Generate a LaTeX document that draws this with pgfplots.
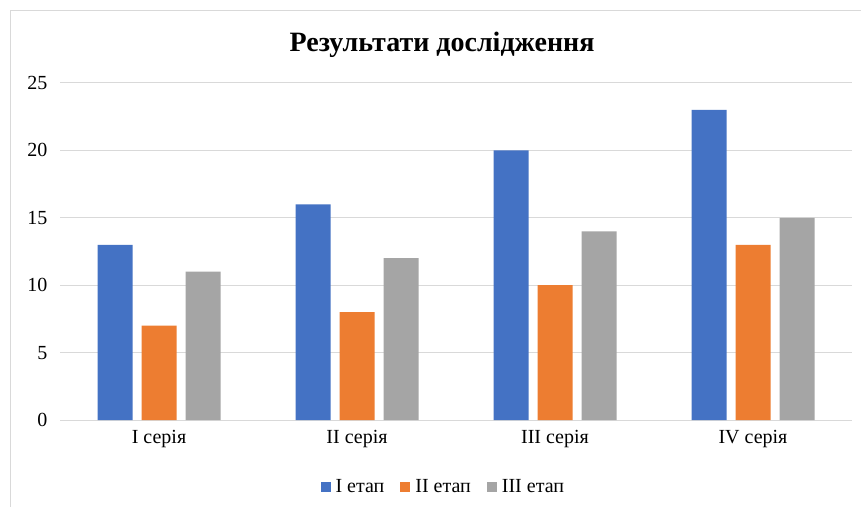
\documentclass[border=0pt]{standalone}
\usepackage{fontspec}
\setmainfont{Liberation Serif}
\usepackage{pgfplots}
\pgfplotsset{compat=1.18}
\definecolor{cA}{HTML}{4472C4}
\definecolor{cB}{HTML}{ED7D31}
\definecolor{cC}{HTML}{A5A5A5}
\definecolor{gridc}{HTML}{D9D9D9}
\begin{document}
\begin{tikzpicture}
\useasboundingbox (0pt,0pt) rectangle (861pt,506pt);
\fill[white] (0pt,0pt) rectangle (861pt,506pt);
\draw[color=gridc, line width=1pt] (10pt,-2pt) -- (10pt,495pt) -- (863pt,495pt);
\node[font=\fontsize{28}{32}\selectfont\bfseries] at (442pt,461pt) {Результати дослідження};
\begin{axis}[
  at={(60pt,86pt)}, anchor=south west,
  scale only axis, width=792pt, height=337pt,
  ybar=9pt, bar width=35pt,
  xmin=-0.5, xmax=3.5, ymin=0, ymax=25,
  ytick={0,5,10,15,20,25},
  xtick={0,1,2,3},
  xticklabels={I серія, II серія, III серія, IV серія},
  ymajorgrids, grid style={color=gridc, line width=1pt},
  axis line style={draw=none},
  major tick length=0pt,
  tick label style={font=\fontsize{20}{22}\selectfont},
  /pgf/number format/assume math mode=true,
  yticklabel style={xshift=-9pt},
  xticklabel style={yshift=-7pt},
  legend style={at={(0.484,-0.199)}, anchor=center, draw=none, fill=none,
    font=\fontsize{20}{22}\selectfont, legend columns=3,
    /tikz/every odd column/.append style={column sep=3pt},
    /tikz/every even column/.append style={column sep=14pt}},
  legend image code/.code={\fill[#1] (0pt,-5pt) rectangle (10pt,5pt);},
  every axis plot/.append style={draw=none},
]
\addplot[fill=cA] coordinates {(0,13) (1,16) (2,20) (3,23)};
\addplot[fill=cB] coordinates {(0,7) (1,8) (2,10) (3,13)};
\addplot[fill=cC] coordinates {(0,11) (1,12) (2,14) (3,15)};
\legend{I етап, II етап, III етап}
\end{axis}
\end{tikzpicture}
\end{document}
